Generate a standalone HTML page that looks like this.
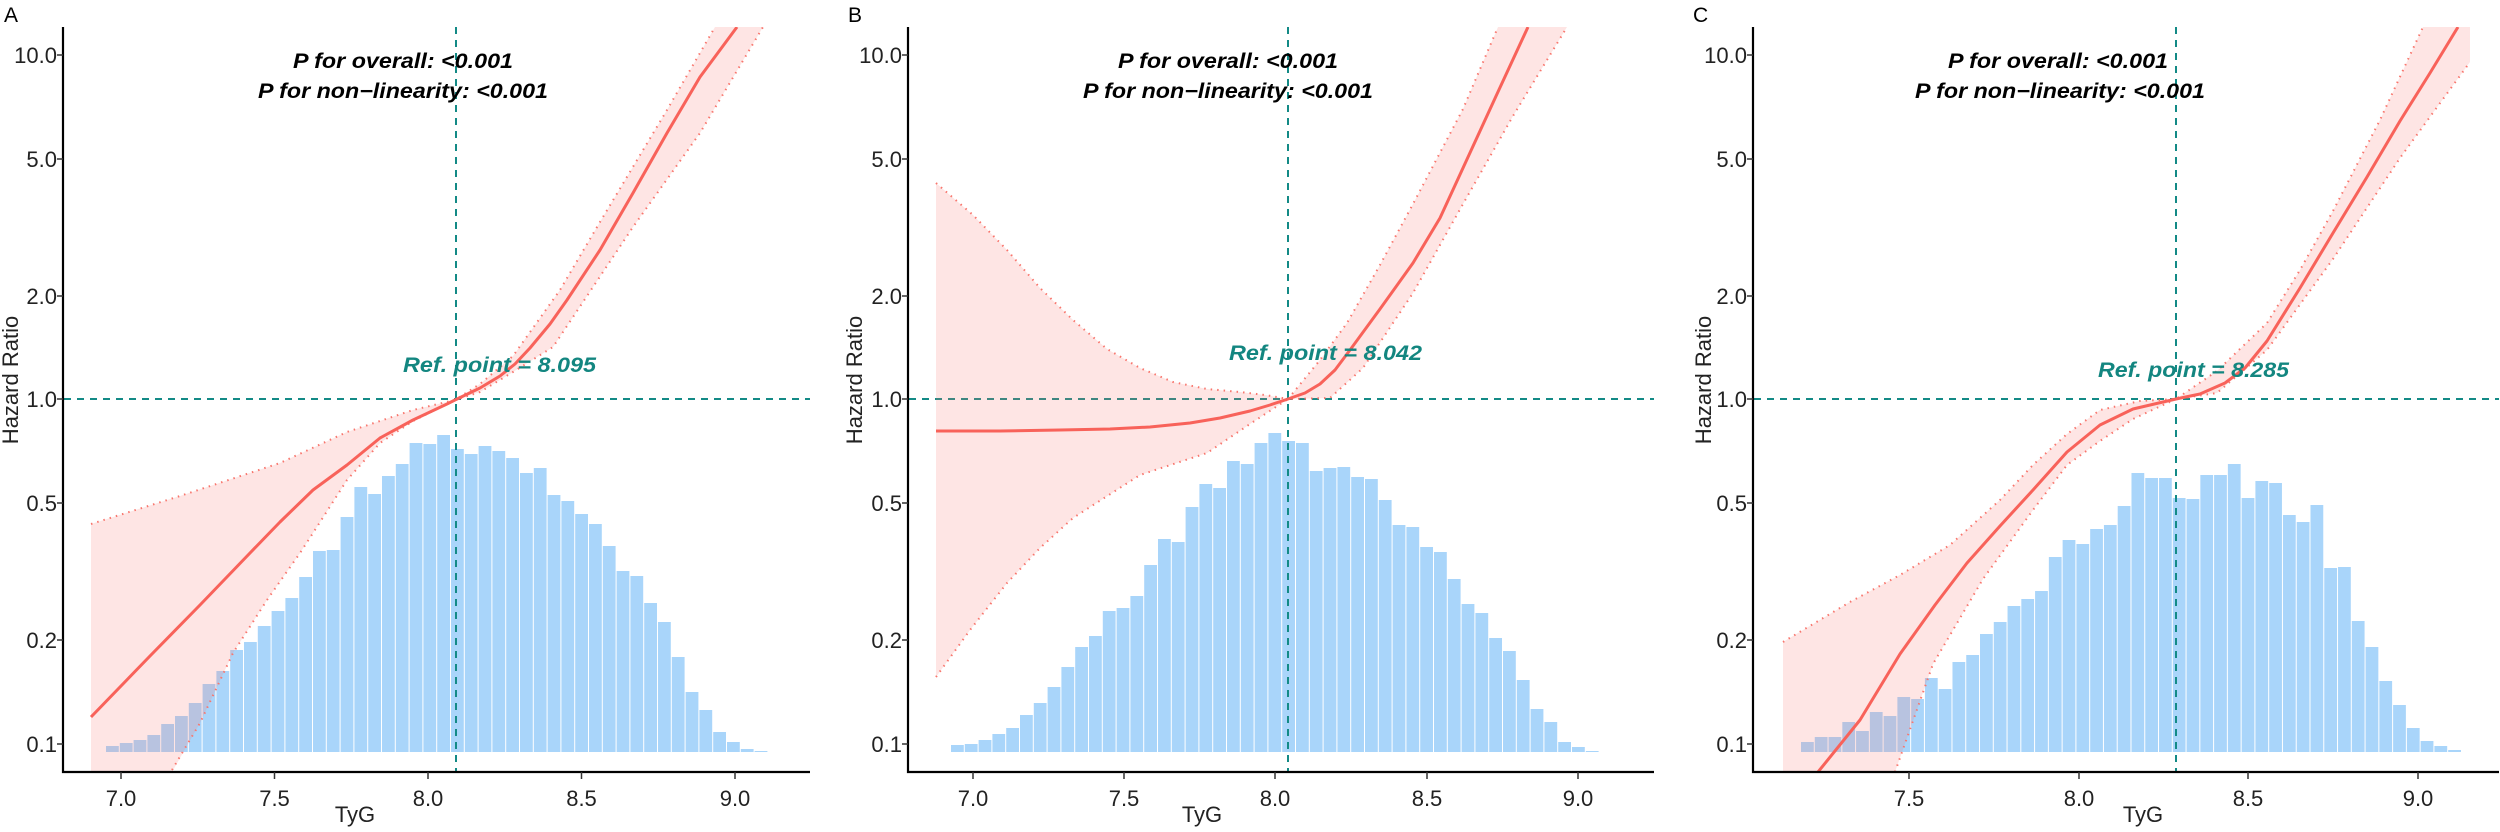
<!DOCTYPE html>
<html><head><meta charset="utf-8"><style>
html,body{margin:0;padding:0;background:#fff;}
svg{display:block;}
text{font-family:"Liberation Sans",Arial,sans-serif;}
.tk{font-size:22px;fill:#222;}
.pv{font-size:21px;font-weight:bold;font-style:italic;fill:#000;}
.rf{font-size:21px;font-weight:bold;font-style:italic;fill:#138680;}
.ax{stroke:#000;stroke-width:2.2;fill:none;}
.tm{stroke:#333;stroke-width:1.5;}
.bar{fill:#A9D5FA;}
.band{fill:#F8766D;fill-opacity:0.19;stroke:none;}
.ci{fill:none;stroke:#F8766D;stroke-width:2;stroke-dasharray:1.5 5;}
.ln{fill:none;stroke:#F8625A;stroke-width:3;stroke-linejoin:round;}
.rl{stroke:#138A86;stroke-width:2;stroke-dasharray:7 6;fill:none;}
</style></head><body>
<svg width="2500" height="832" viewBox="0 0 2500 832" xmlns="http://www.w3.org/2000/svg">
<defs>
<clipPath id="ca"><rect x="64" y="27" width="746" height="745"/></clipPath>
<clipPath id="cb"><rect x="909" y="27" width="745" height="745"/></clipPath>
<clipPath id="cc"><rect x="1754" y="27" width="745" height="745"/></clipPath>
</defs>

<!-- ================= PANEL A ================= -->
<text x="4" y="22" style="font-size:21px;fill:#000">A</text>
<g clip-path="url(#ca)">
<path class="bar" d="M106,752 V746h12.8V752m1,0 V743h12.8V752m1,0 V740h12.8V752m1,0 V735h12.8V752m1,0 V724h12.8V752m1,0 V716h12.8V752m1,0 V703h12.8V752m1,0 V684h12.8V752m1,0 V671h12.8V752m1,0 V650h12.8V752m1,0 V642h12.8V752m1,0 V626h12.8V752m1,0 V611h12.8V752m1,0 V598h12.8V752m1,0 V577h12.8V752m1,0 V551h12.8V752m1,0 V550h12.8V752m1,0 V517h12.8V752m1,0 V487h12.8V752m1,0 V494h12.8V752m1,0 V476h12.8V752m1,0 V464h12.8V752m1,0 V443h12.8V752m1,0 V444h12.8V752m1,0 V435h12.8V752m1,0 V449h12.8V752m1,0 V454h12.8V752m1,0 V446h12.8V752m1,0 V451h12.8V752m1,0 V458h12.8V752m1,0 V473h12.8V752m1,0 V468h12.8V752m1,0 V495h12.8V752m1,0 V501h12.8V752m1,0 V514h12.8V752m1,0 V524h12.8V752m1,0 V546h12.8V752m1,0 V571h12.8V752m1,0 V576h12.8V752m1,0 V603h12.8V752m1,0 V622h12.8V752m1,0 V657h12.8V752m1,0 V692h12.8V752m1,0 V710h12.8V752m1,0 V732h12.8V752m1,0 V742h12.8V752m1,0 V749h12.8V752m1,0 V751h12.8V752Z"/>
<line class="rl" x1="64" y1="399" x2="810" y2="399"/>
<line class="rl" x1="456" y1="27" x2="456" y2="772"/>
<polygon class="band" points="91,524 180,496 280,463 347,432 413,410 455,400 480,384 513,356 560,290 600,222 667,110 715,27 763,27 700,133 633,227 553,347 513,372 480,392 455,400 413,421 380,443 347,480 313,533 300,553 267,600 233,653 200,723 172,772 91,772"/>
<polyline class="ci" points="91,524 180,496 280,463 347,432 413,410 455,400 480,384 513,356 560,290 600,222 667,110 715,27"/>
<polyline class="ci" points="172,770 200,723 233,653 267,600 300,553 313,533 347,480 380,443 413,421 455,400 480,392 513,372 553,347 633,227 700,133 763,27"/>
<polyline class="ln" points="91,717 150,656 200,605 250,553 280,522 313,490 347,465 380,438 413,420 447,404 455,400 480,388 500,376 515,364 530,348 550,324 567,300 600,250 633,193 667,133 700,77 737,27"/>
</g>
<text class="pv" x="403" y="68" text-anchor="middle" textLength="220" lengthAdjust="spacingAndGlyphs">P for overall: &lt;0.001</text>
<text class="pv" x="403" y="98" text-anchor="middle" textLength="290" lengthAdjust="spacingAndGlyphs">P for non−linearity: &lt;0.001</text>
<text class="rf" x="403" y="372" textLength="193" lengthAdjust="spacingAndGlyphs">Ref. point = 8.095</text>
<path class="ax" d="M63,27 V772 H810"/>
<g class="tm">
<line x1="57" y1="55" x2="63" y2="55"/><line x1="57" y1="159" x2="63" y2="159"/><line x1="57" y1="296" x2="63" y2="296"/><line x1="57" y1="399" x2="63" y2="399"/><line x1="57" y1="503" x2="63" y2="503"/><line x1="57" y1="640" x2="63" y2="640"/><line x1="57" y1="744" x2="63" y2="744"/>
<line x1="121" y1="772" x2="121" y2="779"/><line x1="274.5" y1="772" x2="274.5" y2="779"/><line x1="428" y1="772" x2="428" y2="779"/><line x1="581.5" y1="772" x2="581.5" y2="779"/><line x1="735" y1="772" x2="735" y2="779"/>
</g>
<g class="tk" text-anchor="end">
<text x="57" y="63">10.0</text><text x="57" y="167">5.0</text><text x="57" y="304">2.0</text><text x="57" y="407">1.0</text><text x="57" y="511">0.5</text><text x="57" y="648">0.2</text><text x="57" y="752">0.1</text>
</g>
<g class="tk" text-anchor="middle">
<text x="121" y="806">7.0</text><text x="274.5" y="806">7.5</text><text x="428" y="806">8.0</text><text x="581.5" y="806">8.5</text><text x="735" y="806">9.0</text>
<text x="355" y="822">TyG</text>
</g>
<text class="tk" transform="translate(18,380) rotate(-90)" text-anchor="middle">Hazard Ratio</text>

<!-- ================= PANEL B ================= -->
<text x="848" y="22" style="font-size:21px;fill:#000">B</text>
<g clip-path="url(#cb)">
<path class="bar" d="M951,752 V745h12.8V752m1,0 V744h12.8V752m1,0 V740h12.8V752m1,0 V734h12.8V752m1,0 V728h12.8V752m1,0 V715h12.8V752m1,0 V703h12.8V752m1,0 V687h12.8V752m1,0 V667h12.8V752m1,0 V647h12.8V752m1,0 V636h12.8V752m1,0 V611h12.8V752m1,0 V608h12.8V752m1,0 V596h12.8V752m1,0 V565h12.8V752m1,0 V539h12.8V752m1,0 V542h12.8V752m1,0 V507h12.8V752m1,0 V484h12.8V752m1,0 V488h12.8V752m1,0 V461h12.8V752m1,0 V464h12.8V752m1,0 V443h12.8V752m1,0 V433h12.8V752m1,0 V441h12.8V752m1,0 V443h12.8V752m1,0 V471h12.8V752m1,0 V468h12.8V752m1,0 V467h12.8V752m1,0 V477h12.8V752m1,0 V479h12.8V752m1,0 V500h12.8V752m1,0 V525h12.8V752m1,0 V527h12.8V752m1,0 V547h12.8V752m1,0 V552h12.8V752m1,0 V579h12.8V752m1,0 V604h12.8V752m1,0 V613h12.8V752m1,0 V638h12.8V752m1,0 V651h12.8V752m1,0 V680h12.8V752m1,0 V709h12.8V752m1,0 V722h12.8V752m1,0 V742h12.8V752m1,0 V747h12.8V752m1,0 V751h12.8V752Z"/>
<line class="rl" x1="909" y1="399" x2="1654" y2="399"/>
<line class="rl" x1="1288" y1="27" x2="1288" y2="772"/>
<polygon class="band" points="936,183 973,215 1007,250 1040,288 1073,320 1107,349 1140,368 1173,382 1207,389 1240,392 1265,395 1288,399 1320,360 1347,323 1380,265 1413,204 1463,109 1498,27 1567,27 1513,116 1463,204 1413,293 1363,368 1330,398 1288,399 1250,424 1207,453 1140,475 1073,518 1040,548 1007,583 970,630 936,677"/>
<polyline class="ci" points="936,183 973,215 1007,250 1040,288 1073,320 1107,349 1140,368 1173,382 1207,389 1240,392 1265,395 1288,399 1320,360 1347,323 1380,265 1413,204 1463,109 1498,27"/>
<polyline class="ci" points="936,677 970,630 1007,583 1040,548 1073,518 1140,475 1207,453 1250,424 1288,399 1330,398 1363,368 1413,293 1463,204 1513,116 1567,27"/>
<polyline class="ln" points="936,431 1000,431 1060,430 1110,429 1150,427 1190,423 1220,418 1250,411 1270,405 1288,399 1305,393 1320,384 1335,370 1350,350 1380,309 1413,263 1440,218 1463,168 1497,94 1528,27"/>
</g>
<text class="pv" x="1228" y="68" text-anchor="middle" textLength="220" lengthAdjust="spacingAndGlyphs">P for overall: &lt;0.001</text>
<text class="pv" x="1228" y="98" text-anchor="middle" textLength="290" lengthAdjust="spacingAndGlyphs">P for non−linearity: &lt;0.001</text>
<text class="rf" x="1229" y="360" textLength="193" lengthAdjust="spacingAndGlyphs">Ref. point = 8.042</text>
<path class="ax" d="M908,27 V772 H1654"/>
<g class="tm">
<line x1="902" y1="55" x2="908" y2="55"/><line x1="902" y1="159" x2="908" y2="159"/><line x1="902" y1="296" x2="908" y2="296"/><line x1="902" y1="399" x2="908" y2="399"/><line x1="902" y1="503" x2="908" y2="503"/><line x1="902" y1="640" x2="908" y2="640"/><line x1="902" y1="744" x2="908" y2="744"/>
<line x1="973" y1="772" x2="973" y2="779"/><line x1="1124" y1="772" x2="1124" y2="779"/><line x1="1275" y1="772" x2="1275" y2="779"/><line x1="1427" y1="772" x2="1427" y2="779"/><line x1="1578" y1="772" x2="1578" y2="779"/>
</g>
<g class="tk" text-anchor="end">
<text x="902" y="63">10.0</text><text x="902" y="167">5.0</text><text x="902" y="304">2.0</text><text x="902" y="407">1.0</text><text x="902" y="511">0.5</text><text x="902" y="648">0.2</text><text x="902" y="752">0.1</text>
</g>
<g class="tk" text-anchor="middle">
<text x="973" y="806">7.0</text><text x="1124" y="806">7.5</text><text x="1275" y="806">8.0</text><text x="1427" y="806">8.5</text><text x="1578" y="806">9.0</text>
<text x="1202" y="822">TyG</text>
</g>
<text class="tk" transform="translate(862,380) rotate(-90)" text-anchor="middle">Hazard Ratio</text>

<!-- ================= PANEL C ================= -->
<text x="1693" y="22" style="font-size:21px;fill:#000">C</text>
<g clip-path="url(#cc)">
<path class="bar" d="M1801,752 V742h12.77V752m1,0 V737h12.77V752m1,0 V737h12.77V752m1,0 V722h12.77V752m1,0 V731h12.77V752m1,0 V712h12.77V752m1,0 V716h12.77V752m1,0 V697h12.77V752m1,0 V699h12.77V752m1,0 V678h12.77V752m1,0 V689h12.77V752m1,0 V662h12.77V752m1,0 V655h12.77V752m1,0 V634h12.77V752m1,0 V622h12.77V752m1,0 V606h12.77V752m1,0 V599h12.77V752m1,0 V591h12.77V752m1,0 V557h12.77V752m1,0 V540h12.77V752m1,0 V544h12.77V752m1,0 V529h12.77V752m1,0 V525h12.77V752m1,0 V506h12.77V752m1,0 V473h12.77V752m1,0 V478h12.77V752m1,0 V478h12.77V752m1,0 V498h12.77V752m1,0 V499h12.77V752m1,0 V475h12.77V752m1,0 V475h12.77V752m1,0 V464h12.77V752m1,0 V498h12.77V752m1,0 V481h12.77V752m1,0 V483h12.77V752m1,0 V515h12.77V752m1,0 V522h12.77V752m1,0 V505h12.77V752m1,0 V568h12.77V752m1,0 V567h12.77V752m1,0 V621h12.77V752m1,0 V647h12.77V752m1,0 V681h12.77V752m1,0 V705h12.77V752m1,0 V728h12.77V752m1,0 V741h12.77V752m1,0 V746h12.77V752m1,0 V750h12.77V752Z"/>
<line class="rl" x1="1754" y1="399" x2="2499" y2="399"/>
<line class="rl" x1="2176" y1="27" x2="2176" y2="772"/>
<polygon class="band" points="1783,642 1850,602 1900,575 1950,545 2000,500 2033,465 2067,434 2100,410 2140,401 2176,399 2217,371 2267,323 2300,270 2333,211 2380,120 2423,27 2470,27 2470,62 2400,158 2333,259 2267,350 2217,393 2176,399 2133,419 2100,441 2067,465 2033,510 1983,579 1933,664 1895,772 1783,772"/>
<polyline class="ci" points="1783,642 1850,602 1900,575 1950,545 2000,500 2033,465 2067,434 2100,410 2140,401 2176,399 2217,371 2267,323 2300,270 2333,211 2380,120 2423,27"/>
<polyline class="ci" points="1895,772 1933,664 1983,579 2033,510 2067,465 2100,441 2133,419 2176,399 2217,393 2267,350 2333,259 2400,158 2470,62"/>
<polyline class="ln" points="1818,772 1860,720 1900,654 1935,605 1967,563 2000,526 2033,490 2067,452 2100,425 2133,409 2176,399 2200,394 2225,383 2245,368 2267,341 2300,288 2333,233 2367,177 2400,121 2430,73 2458,27"/>
</g>
<text class="pv" x="2058" y="68" text-anchor="middle" textLength="220" lengthAdjust="spacingAndGlyphs">P for overall: &lt;0.001</text>
<text class="pv" x="2060" y="98" text-anchor="middle" textLength="290" lengthAdjust="spacingAndGlyphs">P for non−linearity: &lt;0.001</text>
<text class="rf" x="2098" y="377" textLength="191" lengthAdjust="spacingAndGlyphs">Ref. point = 8.285</text>
<path class="ax" d="M1753,27 V772 H2499"/>
<g class="tm">
<line x1="1747" y1="55" x2="1753" y2="55"/><line x1="1747" y1="159" x2="1753" y2="159"/><line x1="1747" y1="296" x2="1753" y2="296"/><line x1="1747" y1="399" x2="1753" y2="399"/><line x1="1747" y1="503" x2="1753" y2="503"/><line x1="1747" y1="640" x2="1753" y2="640"/><line x1="1747" y1="744" x2="1753" y2="744"/>
<line x1="1909" y1="772" x2="1909" y2="779"/><line x1="2079" y1="772" x2="2079" y2="779"/><line x1="2248" y1="772" x2="2248" y2="779"/><line x1="2418" y1="772" x2="2418" y2="779"/>
</g>
<g class="tk" text-anchor="end">
<text x="1747" y="63">10.0</text><text x="1747" y="167">5.0</text><text x="1747" y="304">2.0</text><text x="1747" y="407">1.0</text><text x="1747" y="511">0.5</text><text x="1747" y="648">0.2</text><text x="1747" y="752">0.1</text>
</g>
<g class="tk" text-anchor="middle">
<text x="1909" y="806">7.5</text><text x="2079" y="806">8.0</text><text x="2248" y="806">8.5</text><text x="2418" y="806">9.0</text>
<text x="2143" y="822">TyG</text>
</g>
<text class="tk" transform="translate(1711,380) rotate(-90)" text-anchor="middle">Hazard Ratio</text>
</svg>
</body></html>
